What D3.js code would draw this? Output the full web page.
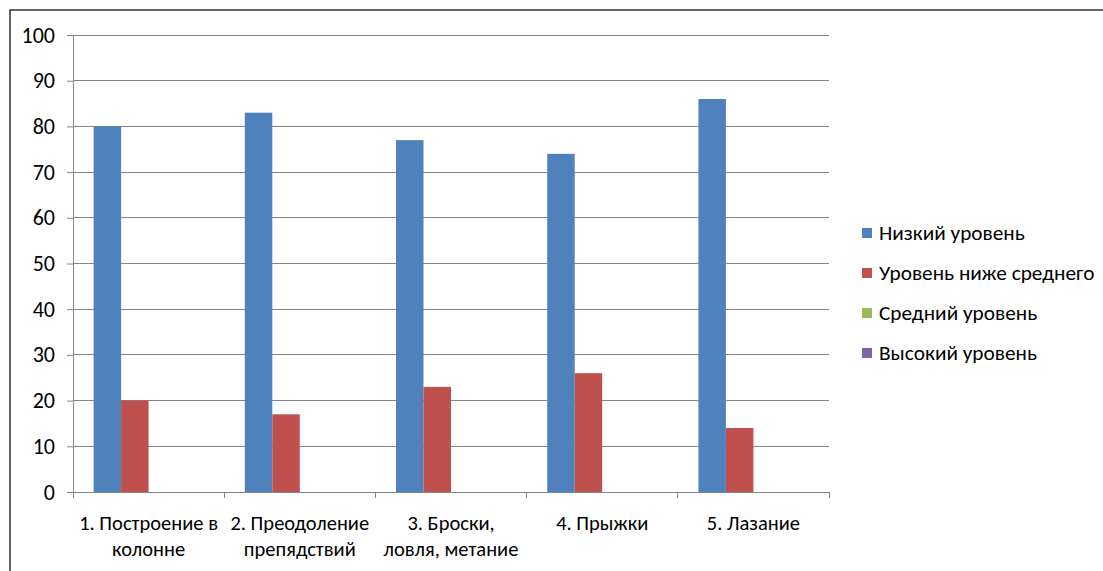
<!DOCTYPE html>
<html><head><meta charset="utf-8">
<script src="https://cdn.jsdelivr.net/npm/d3@7"></script>
<style>body{margin:0;background:#fff}svg{display:block;font-family:Carlito,Lato,"Noto Sans",sans-serif}</style>
</head><body><svg id="c" width="1103" height="571"></svg>
<script>
const categories = [["1. Построение в","колонне"],["2. Преодоление","препядствий"],["3. Броски,","ловля, метание"],["4. Прыжки"],["5. Лазание"]];
const seriesNames = ["Низкий уровень","Уровень ниже среднего","Средний уровень","Высокий уровень"];
const colors = ["#4f81bd","#c0504d","#9bbb59","#8064a2"];
const low = [80,83,77,74,86];
const belowAvg = [20,17,23,26,14];
const avg = [0,0,0,0,0];
const high = [0,0,0,0,0];
const yTicks = [0,10,20,30,40,50,60,70,80,90,100];
const values = [low, belowAvg, avg, high];

const svg = d3.select("#c");
svg.append("rect").attr("x",10).attr("y",10).attr("width",1110).attr("height",580)
  .attr("fill","none").attr("stroke","#333").attr("stroke-width",1.5);

const L=73,R=829,T=35,B=492;
const x = d3.scaleBand().domain(d3.range(categories.length)).range([L,R]);
const bw = x.bandwidth()/5.5;
const inner = d3.scaleBand().domain(d3.range(4)).range([0.75*bw, 4.75*bw]);
const y = d3.scaleLinear().domain([0,100]).range([B,T]);

// grid
svg.append("g").selectAll("line").data(yTicks.filter(d=>d>0)).join("line")
  .attr("x1",L).attr("x2",R).attr("y1",d=>y(d)).attr("y2",d=>y(d))
  .attr("stroke","#868686").attr("stroke-width",1).attr("shape-rendering","crispEdges");

// bars
values.forEach((vals,s)=>{
  svg.append("g").selectAll("rect").data(vals).join("rect")
    .attr("x",(d,i)=>x(i)+inner(s)).attr("width",inner.bandwidth())
    .attr("y",d=>y(d)).attr("height",d=>B-y(d)).attr("fill",colors[s]);
});

// y axis
const ya = svg.append("g").attr("transform",`translate(${L},0)`)
  .call(d3.axisLeft(y).tickValues(yTicks).tickSize(6).tickPadding(12));
ya.attr("font-size",null).attr("font-family",null);
ya.select(".domain").attr("stroke","#868686");
ya.selectAll(".tick line").attr("stroke","#868686");
ya.selectAll("text").style("font-size","22px").attr("fill","#000");

// x axis
const xa = svg.append("g").attr("transform",`translate(0,${B})`);
xa.append("line").attr("x1",L).attr("x2",R).attr("stroke","#868686").attr("shape-rendering","crispEdges");
xa.selectAll(".t").data(d3.range(categories.length+1)).join("line")
  .attr("x1",i=>L+i*x.step()).attr("x2",i=>L+i*x.step()).attr("y1",0).attr("y2",6)
  .attr("stroke","#868686").attr("shape-rendering","crispEdges");
categories.forEach((lines,i)=>{
  const t = xa.append("text").attr("text-anchor","middle").style("font-size","20.5px").attr("fill","#000");
  lines.forEach((ln,j)=>t.append("tspan").attr("x",x(i)+x.bandwidth()/2).attr("y",38+j*26).text(ln));
});

// legend
const lg = svg.append("g");
seriesNames.forEach((n,i)=>{
  const cy = 233+i*40;
  lg.append("rect").attr("x",862).attr("y",cy-5).attr("width",10).attr("height",10).attr("fill",colors[i]);
  lg.append("text").attr("x",879).attr("y",cy+7).style("font-size","21.3px").attr("fill","#000").text(n);
});
</script></body></html>
